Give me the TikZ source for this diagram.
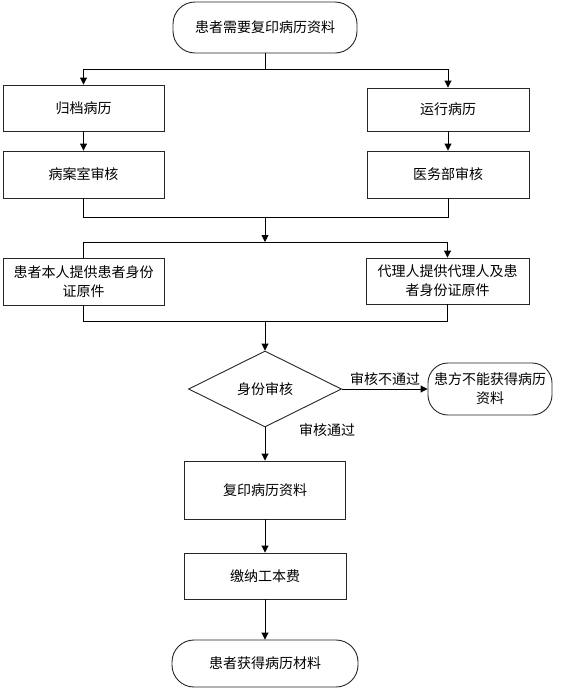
\documentclass[tikz,border=0pt]{standalone}
\usepackage{fontspec}
\newfontfamily\cjk{Noto Sans CJK SC}
\usetikzlibrary{arrows.meta,shapes.geometric}
\begin{document}
\begin{tikzpicture}[x=1pt,y=-1pt,
  every node/.style={font=\cjk\fontsize{14}{19}\selectfont, inner sep=0pt, align=center},
  box/.style={draw=black!85, line width=0.9pt, rectangle},
  term/.style={draw=black!85, line width=0.9pt, rectangle, rounded corners=22pt},
  dec/.style={draw=black!85, line width=0.9pt, diamond},
  conn/.style={draw=black, line width=0.9pt},
  arr/.style={conn, -{Triangle[length=7pt,width=7pt]}},
  lbl/.style={}
]
\useasboundingbox (0,0) rectangle (564,691);
\fill[white] (0,0) rectangle (564,691);

\node[term, minimum width=184pt, minimum height=51pt] (start) at (265,27.5) {患者需要复印病历资料};

\node[box, minimum width=161pt, minimum height=46pt] (a1) at (83.5,108) {归档病历};
\node[box, minimum width=162pt, minimum height=43pt] (b1) at (448,109.5) {运行病历};
\node[box, minimum width=161pt, minimum height=47pt] (a2) at (83.5,174.5) {病案室审核};
\node[box, minimum width=162pt, minimum height=47pt] (b2) at (448,174.5) {医务部审核};

\node[box, minimum width=161pt, minimum height=47pt] (c1) at (83.5,281.5) {患者本人提供患者身份\\证原件};
\node[box, minimum width=163pt, minimum height=46pt] (d1) at (447.5,281) {代理人提供代理人及患\\者身份证原件};

\node[dec, minimum width=153pt, minimum height=76pt] (dia) at (265,389) {身份审核};
\node[term, rounded corners=20pt, minimum width=124pt, minimum height=52pt] (fail) at (490,389) {患方不能获得病历\\资料};

\node[box, minimum width=161pt, minimum height=58pt] (copy) at (265,490) {复印病历资料};
\node[box, minimum width=162pt, minimum height=46pt] (fee) at (265,576) {缴纳工本费};
\node[term, minimum width=186pt, minimum height=47pt] (done) at (265,663.5) {患者获得病历材料};

\node[lbl] (lno) at (385,379) {审核不通过};
\node[lbl] (lyes) at (327,430) {审核通过};

\coordinate (f) at (265,69);
\coordinate (m1) at (265,217);
\coordinate (m2) at (265,242);
\coordinate (m3) at (265,321);

\draw[conn] (start.south) -- (f);
\draw[arr] (f) -| (a1.north);
\draw[arr] (f) -| (b1.north);
\draw[arr] (a1) -- (a2);
\draw[arr] (b1) -- (b2);
\draw[conn] (a2.south) |- (m1);
\draw[conn] (b2.south) |- (m1);
\draw[arr] (m1) -- (m2);
\draw[conn] (m2) -| (c1.north);
\draw[arr] (m2) -| (d1.north);
\draw[conn] (c1.south) |- (m3);
\draw[conn] (d1.south) |- (m3);
\draw[arr] (m3) -- (dia.north);
\draw[arr] (dia.east) -- (fail.west);
\draw[arr] (dia.south) -- (copy.north);
\draw[arr] (copy) -- (fee);
\draw[arr] (fee) -- (done);
\end{tikzpicture}
\end{document}
